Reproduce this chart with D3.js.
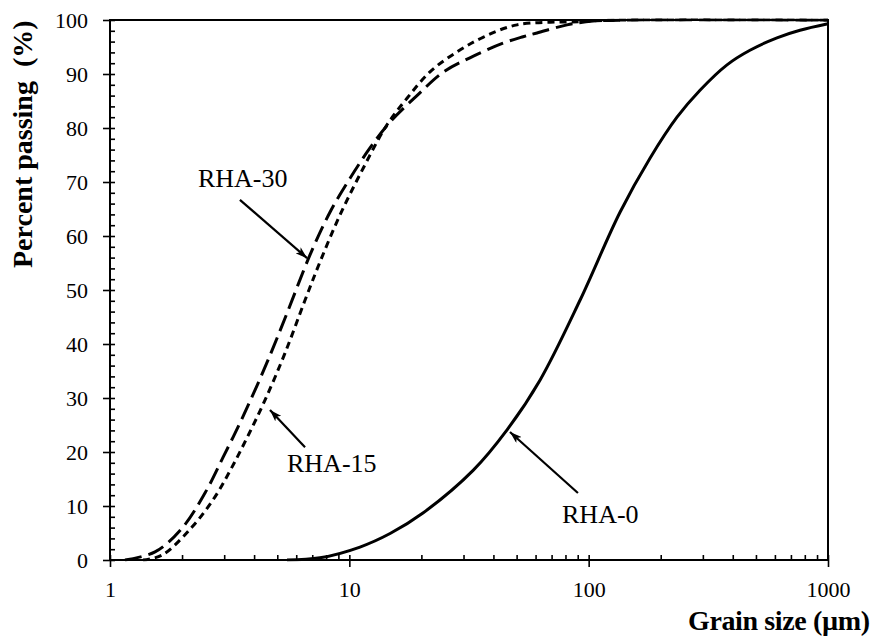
<!DOCTYPE html>
<html>
<head>
<meta charset="utf-8">
<script src="https://cdn.jsdelivr.net/npm/d3@7"></script>
<style>
  html, body { margin: 0; padding: 0; background: #fff; }
  svg text { font-family: "Liberation Serif", "Times New Roman", serif; fill: #000; }
</style>
</head>
<body>
<svg id="chart" width="875" height="637"></svg>
<script>
// ---- data (grain size in µm, percent passing) ----
const rha0Size = [5.49, 7.54, 11.08, 14.8, 20.3, 32.9, 45.6, 62.6, 92.0, 135.2, 180.4, 233.9, 291.9, 378.5, 472, 612, 764, 1000];
const rha0Pass = [0, 0.4, 2.4, 4.9, 8.7, 16.6, 24.1, 33.3, 48.1, 64.4, 74.4, 82.0, 87.0, 91.7, 94.4, 96.7, 98.1, 99.3];

const rha15Size = [1.374, 1.649, 2.201, 2.746, 3.234, 3.772, 4.442, 5.384, 6.528, 7.541, 9.141, 11.41, 14.37, 17.42, 21.73, 28.18, 36.19, 50.2, 92.0, 135.2, 1000];
const rha15Pass = [0, 0.9, 6.1, 11.7, 17.2, 23.0, 29.6, 38.3, 48.1, 55.2, 63.9, 72.5, 80.6, 85.5, 90.4, 94.1, 96.8, 99.1, 99.7, 100, 100];

const rha30Size = [1.155, 1.542, 2.0, 2.494, 2.966, 3.425, 3.919, 4.572, 5.49, 6.85, 8.30, 10.07, 12.2, 14.79, 19.17, 24.6, 31.9, 43.85, 53.2, 60.85, 81.2, 104.3, 150, 1000];
const rha30Pass = [0, 1.5, 5.9, 12.4, 19.0, 24.6, 30.2, 37.0, 45.7, 56.5, 64.4, 70.7, 76.3, 81.1, 86.0, 90.3, 93.0, 95.7, 96.9, 97.6, 99.1, 99.8, 100, 100];

const xMajorTicks = [1, 10, 100, 1000];
const yMajorTicks = [0, 10, 20, 30, 40, 50, 60, 70, 80, 90, 100];

const seriesNames = ["RHA-0", "RHA-15", "RHA-30"];

// annotation: label anchor, arrow tail and arrow tip, in data units
const annLabels = ["RHA-30", "RHA-15", "RHA-0"];
const annText = [[2.33, 69.1], [5.49, 16.3], [77.4, 6.85]];
const annTail = [[3.49, 66.7], [6.53, 20.9], [90.2, 12.4]];
const annTip  = [[6.66, 55.9], [4.66, 27.8], [46.9, 23.7]];

// ---- layout ----
const W = 875, H = 637;
const margin = { top: 20, right: 47, bottom: 77, left: 110 };
const iw = W - margin.left - margin.right;
const ih = H - margin.top - margin.bottom;

const svg = d3.select("#chart");
const g = svg.append("g").attr("transform", `translate(${margin.left},${margin.top})`);

const x = d3.scaleLog().domain([1, 1000]).range([0, iw]);
const y = d3.scaleLinear().domain([0, 100]).range([ih, 0]);

// minor ticks
const xAllTicks = [];
for (let dec = 1; dec < 1000; dec *= 10) for (let k = 1; k < 10; k++) xAllTicks.push(dec * k);
xAllTicks.push(1000);
const yAllTicks = d3.range(0, 101, 2);

// ---- series ----
const line = d3.line()
  .x(d => x(d[0]))
  .y(d => Math.max(y(d[1]), y(100)))
  .curve(d3.curveCatmullRom.alpha(0.5));
const series = [
  { name: seriesNames[0], pts: d3.zip(rha0Size, rha0Pass), dash: null },
  { name: seriesNames[1], pts: d3.zip(rha15Size, rha15Pass), dash: "7,5" },
  { name: seriesNames[2], pts: d3.zip(rha30Size, rha30Pass), dash: "17,7" }
];
g.append("clipPath").attr("id", "plotclip").append("rect")
  .attr("x", -2).attr("y", -1.5).attr("width", iw + 4).attr("height", ih + 3);
g.selectAll("path.series").data(series).join("path")
  .attr("class", "series")
  .attr("clip-path", "url(#plotclip)")
  .attr("d", d => line(d.pts))
  .attr("fill", "none")
  .attr("stroke", "#000")
  .attr("stroke-width", 3)
  .attr("stroke-dasharray", d => d.dash);

// ---- axes ----
function styleAxis(sel) {
  sel.select(".domain").remove();
  sel.selectAll(".tick line").attr("stroke", "#000").attr("stroke-width", 1.6);
}
// inner ticks (all)
g.append("g").attr("transform", `translate(0,${ih})`)
  .call(d3.axisBottom(x).tickValues(xAllTicks).tickSize(-5).tickFormat(""))
  .call(styleAxis);
g.append("g")
  .call(d3.axisLeft(y).tickValues(yAllTicks).tickSize(-5).tickFormat(""))
  .call(styleAxis);
// major outer ticks with labels
const xa = g.append("g").attr("transform", `translate(0,${ih})`)
  .call(d3.axisBottom(x).tickValues(xMajorTicks).tickSize(7).tickPadding(14).tickFormat(d3.format("d")))
  .call(styleAxis);
xa.selectAll("text").attr("font-size", 22).attr("font-family", "Liberation Serif, serif");
const ya = g.append("g")
  .call(d3.axisLeft(y).tickValues(yMajorTicks).tickSize(7).tickPadding(15))
  .call(styleAxis);
ya.selectAll("text").attr("font-size", 22).attr("font-family", "Liberation Serif, serif");

// frame
g.append("rect").attr("x", 0).attr("y", 0).attr("width", iw).attr("height", ih)
  .attr("fill", "none").attr("stroke", "#000").attr("stroke-width", 2);

// ---- axis titles ----
svg.append("text")
  .attr("x", 688).attr("y", 630)
  .attr("text-anchor", "start")
  .attr("font-size", 28).attr("font-weight", "bold")
  .attr("textLength", 182).attr("lengthAdjust", "spacing")
  .text("Grain size (µm)");
svg.append("text")
  .attr("transform", "translate(32,268) rotate(-90)")
  .attr("text-anchor", "start")
  .attr("font-size", 28).attr("font-weight", "bold")
  .style("white-space", "pre")
  .text("Percent passing  (%)");

// ---- annotations ----
const defs = svg.append("defs");
defs.append("marker").attr("id", "arrow")
  .attr("viewBox", "0 0 12 8").attr("refX", 12).attr("refY", 4)
  .attr("markerWidth", 12).attr("markerHeight", 8)
  .attr("markerUnits", "userSpaceOnUse").attr("orient", "auto")
  .append("path").attr("d", "M0,0 L12,4 L0,8 L3,4 Z").attr("fill", "#000");

annLabels.forEach((lab, i) => {
  g.append("text")
    .attr("x", x(annText[i][0])).attr("y", y(annText[i][1]))
    .attr("font-size", 26)
    .text(lab);
  g.append("line")
    .attr("x1", x(annTail[i][0])).attr("y1", y(annTail[i][1]))
    .attr("x2", x(annTip[i][0])).attr("y2", y(annTip[i][1]))
    .attr("stroke", "#000").attr("stroke-width", 2.2)
    .attr("marker-end", "url(#arrow)");
});
</script>
</body>
</html>
